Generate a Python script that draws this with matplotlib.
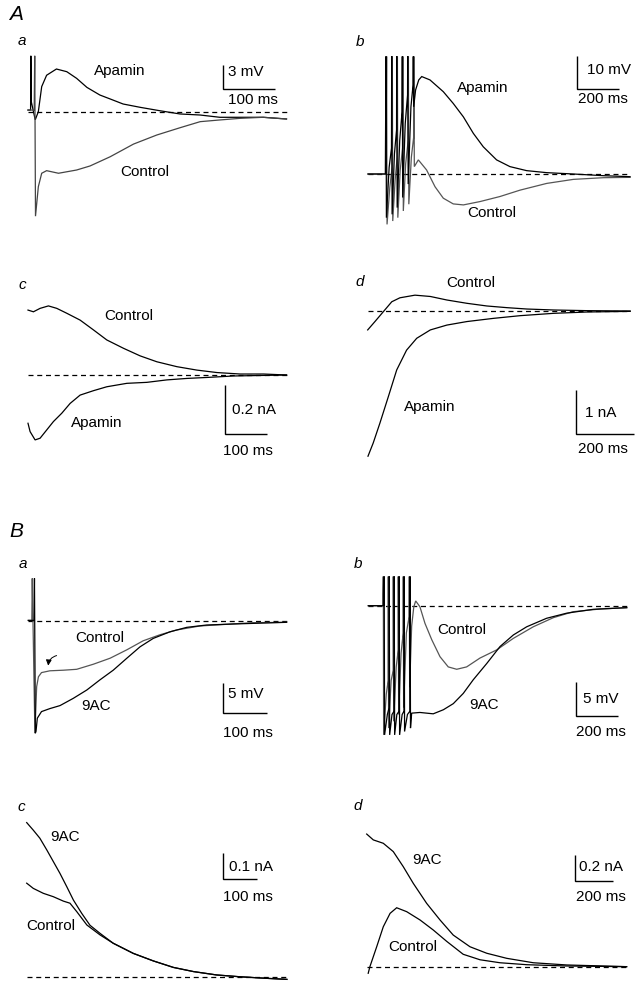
#!/usr/bin/env python3
"""
Apamin / 9AC recordings, panels A a-d and B a-d.
Each panel is its own transparent axes laid over the whole figure, scaled so
that the calibration bars come out at the same size as in the original.
"""

import matplotlib.pyplot as plt

plt.rcParams["font.family"] = ["Liberation Sans", "DejaVu Sans"]
plt.rcParams["font.size"] = 11

W, H = 638, 988

# ---- A a : membrane potential (ms, mV) ----
aa_t_control = [0, 12, 13, 14.5, 20, 26.5, 36, 59, 94, 120, 159, 204, 249, 294, 333, 371, 410, 455, 500]
aa_v_control = [0.2, 0.2, 6.9, -12.9, -9.26, -7.6, -7.28, -7.6, -7.2, -6.7, -5.56, -4.0, -2.88, -1.98, -1.23, -1.02, -0.82, -0.69, -0.9]
aa_t_apamin = [0, 5, 5.5, 6.5, 14, 20, 26.5, 36, 55, 75, 94, 114, 139, 159, 184, 217, 255, 294, 333, 371, 410, 455, 500]
aa_v_apamin = [0.2, 0.2, 6.9, 1.2, -1.0, 0.0, 3.1, 4.5, 5.27, 4.94, 4.12, 3.0, 2.06, 1.57, 0.95, 0.54, 0.12, -0.28, -0.41, -0.69, -0.69, -0.69, -0.9]

# ---- A b : train of spikes (ms, mV) ----
ab_t_apamin = [0, 82, 85, 87, 100, 111, 112, 114, 125, 135, 135.7, 138, 150, 161, 162.2, 164, 176, 187, 187.7, 190,
               203, 213, 214.2, 216, 225, 240, 254, 293, 356, 403, 451, 498, 545, 608, 671, 750, 845, 971, 1113, 1239]
ab_v_apamin = [0, 0, 35, -13, 2, 7.7, 35, -12, 6, 13.1, 35, -10, 10, 18.5, 35, -7, 15, 23.5, 35, -3,
               20, 26.5, 35, 20, 25, 28, 29, 28, 24.5, 21, 17, 12.1, 8.1, 4.2, 2.2, 1.0, 0.4, 0, -0.5, -0.8]
ab_t_control = [0, 85, 88, 90, 103, 114, 115, 117, 128, 138, 139, 141, 152, 164, 165, 167, 178, 190, 191, 193,
                205, 216, 217, 219, 238, 277, 317, 356, 403, 451, 530, 624, 719, 845, 971, 1113, 1239]
ab_v_control = [0, 0, 35, -15, -4, 2, 35, -14, -2, 5, 35, -13, 1, 8, 35, -11, 3, 10, 35, -9,
                5, 11, 35, 2.2, 4.2, 1.2, -3.8, -7.2, -8.9, -9.2, -8.2, -6.7, -4.8, -2.8, -1.6, -1.1, -1.0]

# ---- A c : current (ms, nA) ----
ac_t_control = [0, 13, 29, 49, 69, 93, 125, 157, 189, 229, 269, 309, 357, 405, 453, 509, 565, 620]
ac_i_control = [0.265, 0.258, 0.272, 0.282, 0.272, 0.252, 0.224, 0.184, 0.143, 0.109, 0.078, 0.054, 0.034, 0.020, 0.010, 0.004, 0.004, 0.0]
ac_t_apamin = [0, 5, 17, 29, 45, 61, 81, 101, 125, 157, 189, 237, 285, 333, 381, 429, 493, 620]
ac_i_apamin = [-0.197, -0.231, -0.265, -0.258, -0.224, -0.19, -0.156, -0.116, -0.082, -0.064, -0.048, -0.034, -0.030, -0.020, -0.014, -0.010, -0.004, 0.0]

# ---- A d : current (ms, nA) ----
ad_t_control = [0, 25, 54, 83, 111, 163, 216, 273, 342, 411, 480, 549, 641, 756, 905]
ad_i_control = [-0.43, -0.24, -0.015, 0.21, 0.30, 0.36, 0.33, 0.25, 0.175, 0.114, 0.076, 0.045, 0.023, 0.008, 0.0]
ad_t_apamin = [1, 19, 42, 71, 100, 134, 169, 216, 273, 342, 434, 526, 641, 756, 905]
ad_i_apamin = [-3.3, -3.0, -2.55, -1.95, -1.34, -0.89, -0.62, -0.43, -0.32, -0.24, -0.167, -0.106, -0.053, -0.023, -0.008]

# ---- B a : membrane potential (ms, mV) ----
ba_t_control = [0, 8, 9, 15, 19, 23, 30, 49, 80, 110, 148, 186, 224, 261, 299, 337, 390, 451, 511, 587]
ba_v_control = [0.1, 0.1, 7.1, -18.7, -10.95, -9.3, -8.6, -8.3, -8.2, -8.05, -7.2, -6.2, -4.8, -3.3, -2.3, -1.5, -0.83, -0.55, -0.28, -0.22]
ba_t_9ac = [0, 13, 14, 16, 17.5, 20.5, 30, 49, 72, 102, 133, 163, 193, 224, 254, 284, 322, 360, 405, 466, 587]
ba_v_9ac = [0.1, 0.1, 7.1, -18.7, -18.4, -16.2, -15.1, -14.6, -14.1, -12.9, -11.5, -9.8, -8.2, -6.2, -4.3, -2.9, -1.8, -1.06, -0.67, -0.5, -0.22]

# ---- B b : train of spikes (ms, mV) ----
bb_t_control = [0, 68, 70.9, 72.5, 85, 94, 94.6, 96, 108, 118, 118.2, 120, 132, 141.5, 141.8, 143.5, 155, 165, 165.5, 167,
                180, 193, 193.9, 195.5, 205, 215, 224, 244, 268, 300, 339, 378, 418, 465, 528, 607, 686, 780, 875, 969, 1095, 1222]
bb_v_control = [0, 0, 4.3, -19, -13, -11, 4.3, -18, -11, -9.5, 4.3, -17, -9, -6.5, 4.3, -16, -7, -4, 4.3, -15,
                -4, -1.6, 4.3, -12, -3, -0.2, 0.7, -0.15, -2.6, -5.0, -7.5, -9.0, -9.35, -9.0, -7.7, -6.5, -4.8, -3.1, -1.76, -0.88, -0.49, -0.29]
bb_t_9ac = [0, 72, 75, 77, 90, 98.5, 99, 101, 112, 122, 122.5, 124.5, 135, 145.5, 146, 148, 160, 169, 169.5, 171.5,
            185, 197, 197.5, 199.5, 205, 244, 307, 355, 402, 449, 496, 560, 623, 686, 749, 843, 938, 1064, 1222]
bb_v_9ac = [0, 0, 4.3, -19, -16, -15, 4.3, -19, -16, -15.5, 4.3, -19, -16, -15.5, 4.3, -19, -16, -15.5, 4.3, -18.5,
            -16, -15.5, 4.3, -18, -15.8, -15.7, -15.9, -15.3, -14.4, -12.9, -10.9, -8.5, -6.0, -4.3, -3.1, -1.85, -1.1, -0.53, -0.29]

# ---- B c : current (ms, nA) ----
bc_t_9ac = [0, 19, 38, 58, 77, 96, 116, 135, 159, 183, 212, 250, 308, 366, 424, 482, 549, 617, 694, 752]
bc_i_9ac = [0.595, 0.566, 0.535, 0.49, 0.445, 0.40, 0.348, 0.297, 0.246, 0.20, 0.169, 0.131, 0.092, 0.063, 0.038, 0.022, 0.009, 0.002, -0.004, -0.008]
bc_t_control = [0, 19, 48, 77, 106, 125, 145, 174, 212, 250, 308, 366, 424, 482, 549, 617, 694, 752]
bc_i_control = [0.362, 0.342, 0.323, 0.31, 0.293, 0.285, 0.252, 0.201, 0.163, 0.131, 0.092, 0.063, 0.038, 0.022, 0.009, 0.002, -0.004, -0.008]

# ---- B d : current (ms, nA) ----
bd_t_9ac = [0, 35, 88, 141, 194, 247, 318, 389, 459, 548, 637, 743, 884, 1061, 1379]
bd_i_9ac = [1.025, 0.98, 0.954, 0.89, 0.774, 0.646, 0.492, 0.364, 0.248, 0.158, 0.108, 0.069, 0.035, 0.018, 0.005]
bd_t_control = [8, 17, 53, 88, 124, 159, 212, 283, 353, 424, 512, 601, 707, 849, 1061, 1379]
bd_i_control = [-0.046, 0.005, 0.158, 0.312, 0.415, 0.458, 0.428, 0.364, 0.287, 0.2, 0.1, 0.058, 0.035, 0.02, 0.01, 0.005]

# baseline (dashed) end time per panel, ms
baseline_end = {"Aa": 501, "Ab": 1239, "Ac": 621, "Ad": 905,
                "Ba": 595, "Bb": 1222, "Bc": 752, "Bd": 1379}

# calibration bars: (time, amplitude, unit text)
calib = {"Aa": (100, 3, "3 mV"), "Ab": (200, 10, "10 mV"),
         "Ac": (100, 0.2, "0.2 nA"), "Ad": (200, 1, "1 nA"),
         "Ba": (100, 5, "5 mV"), "Bb": (200, 5, "5 mV"),
         "Bc": (100, 0.1, "0.1 nA"), "Bd": (200, 0.2, "0.2 nA")}

# layout in pixels: origin x, baseline y, px per ms, px per unit,
# scale bar corner, letter position
layout = {
    "Aa": dict(x0=28, y0=111.7, sx=0.517, sy=8.1, bar=(223.3, 89.3), letter=("a", 22, 41)),
    "Ab": dict(x0=368, y0=174, sx=0.2115, sy=3.36, bar=(576.7, 89.3), letter=("b", 360, 42)),
    "Ac": dict(x0=28, y0=375, sx=0.417, sy=245, bar=(225, 434), letter=("c", 22, 285)),
    "Ad": dict(x0=367.7, y0=311, sx=0.29, sy=44, bar=(576, 434), letter=("d", 360, 282)),
    "Ba": dict(x0=28.3, y0=621, sx=0.44, sy=6, bar=(222.7, 713.3), letter=("a", 23, 564)),
    "Bb": dict(x0=368.3, y0=605.7, sx=0.2115, sy=6.8, bar=(576, 715.7), letter=("b", 358, 564)),
    "Bc": dict(x0=26.7, y0=977.3, sx=0.346, sy=260, bar=(222.7, 879.3), letter=("c", 21, 807)),
    "Bd": dict(x0=366.7, y0=967.3, sx=0.1885, sy=130, bar=(575, 881), letter=("d", 358, 806)),
}

# trace labels (text, x px, y px) and calibration text positions
labels = {
    "Aa": [("Apamin", 119.5, 71), ("Control", 144.5, 172)],
    "Ab": [("Apamin", 483, 88), ("Control", 492, 213)],
    "Ac": [("Control", 129, 316), ("Apamin", 97, 423)],
    "Ad": [("Control", 471, 283), ("Apamin", 430, 407)],
    "Ba": [("Control", 99.5, 638), ("9AC", 96, 706)],
    "Bb": [("Control", 462, 630), ("9AC", 484, 705)],
    "Bc": [("9AC", 65, 837), ("Control", 51, 926)],
    "Bd": [("9AC", 427, 860), ("Control", 413, 947)],
}
calib_text = {
    "Aa": ((228, 72), (252.5, 100)), "Ab": ((586.7, 70), (603, 99.3)),
    "Ac": ((231.7, 410), (248.3, 451)), "Ad": ((585, 413), (603, 449)),
    "Ba": ((228, 694), (248, 733)), "Bb": ((582.7, 699), (600.5, 732)),
    "Bc": ((229.3, 867), (247.7, 897)), "Bd": ((579.3, 867), (600.8, 897)),
}

traces = {
    "Aa": [(aa_t_apamin, aa_v_apamin, "black"), (aa_t_control, aa_v_control, "#444444")],
    "Ab": [(ab_t_control, ab_v_control, "#555555"), (ab_t_apamin, ab_v_apamin, "black")],
    "Ac": [(ac_t_control, ac_i_control, "black"), (ac_t_apamin, ac_i_apamin, "black")],
    "Ad": [(ad_t_control, ad_i_control, "black"), (ad_t_apamin, ad_i_apamin, "black")],
    "Ba": [(ba_t_control, ba_v_control, "#555555"), (ba_t_9ac, ba_v_9ac, "black")],
    "Bb": [(bb_t_control, bb_v_control, "#555555"), (bb_t_9ac, bb_v_9ac, "black")],
    "Bc": [(bc_t_9ac, bc_i_9ac, "black"), (bc_t_control, bc_i_control, "black")],
    "Bd": [(bd_t_9ac, bd_i_9ac, "black"), (bd_t_control, bd_i_control, "black")],
}


def fpos(x, y):
    """pixel -> figure fraction"""
    return x / W, 1 - y / H


def panel_axes(fig, p):
    ax = fig.add_axes([0, 0, 1, 1])
    ax.set_xlim((0 - p["x0"]) / p["sx"], (W - p["x0"]) / p["sx"])
    ax.set_ylim((p["y0"] - H) / p["sy"], p["y0"] / p["sy"])
    ax.patch.set_visible(False)
    ax.axis("off")
    return ax


fig = plt.figure(figsize=(W / 100, H / 100), dpi=100)
fig.patch.set_facecolor("white")

for key, p in layout.items():
    ax = panel_axes(fig, p)

    # dashed zero line
    ax.plot([0, baseline_end[key]], [0, 0], color="black", lw=0.9,
            linestyle=(0, (4, 3)), zorder=1)

    for t, v, c in traces[key]:
        ax.plot(t, v, color=c, lw=0.9, solid_joinstyle="miter", zorder=2)

    # calibration bar
    dt, dv, unit = calib[key]
    bx = (p["bar"][0] - p["x0"]) / p["sx"]
    by = (p["y0"] - p["bar"][1]) / p["sy"]
    ax.plot([bx, bx, bx + dt], [by + dv, by, by], color="black", lw=1.0,
            solid_joinstyle="miter", solid_capstyle="butt")
    (ux, uy), (mx, my) = calib_text[key]
    fig.text(*fpos(ux, uy), unit, ha="left", va="center", fontsize=11)
    fig.text(*fpos(mx, my), f"{dt} ms", ha="center", va="center", fontsize=11)

    for s, x, y in labels[key]:
        fig.text(*fpos(x, y), s, ha="center", va="center", fontsize=11)

    letter, lx, ly = p["letter"]
    fig.text(*fpos(lx, ly), letter, ha="center", va="center",
             fontsize=11, style="italic")

    if key == "Ba":
        # small curved arrow pointing at the early Control component
        ax.annotate("", xy=(45, -7.9), xytext=(70.5, -5.67),
                    arrowprops=dict(arrowstyle="-|>,head_length=0.3,head_width=0.15",
                                    connectionstyle="arc3,rad=0.45",
                                    color="black", lw=0.7))

fig.text(*fpos(16, 15), "A", ha="center", va="center", fontsize=15, style="italic")
fig.text(*fpos(16, 531), "B", ha="center", va="center", fontsize=15, style="italic")

plt.savefig("out.png", dpi=100)
plt.close()
